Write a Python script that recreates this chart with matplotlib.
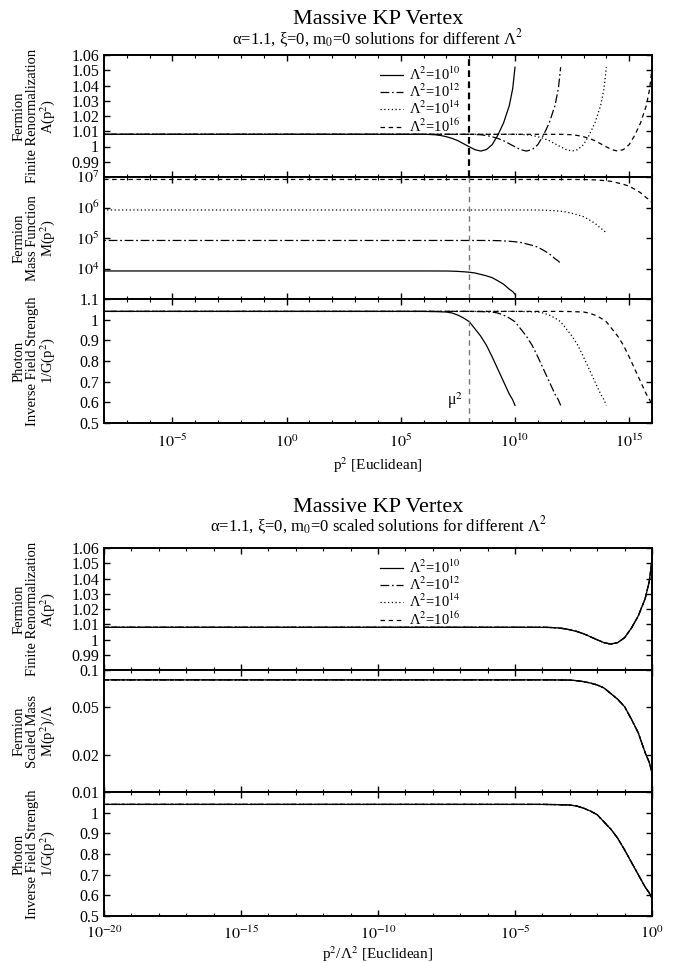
import numpy as np
import matplotlib.pyplot as plt
from matplotlib.ticker import FixedLocator, FuncFormatter, NullFormatter, NullLocator, LogLocator

plt.rcParams['font.family'] = ['Liberation Serif', 'DejaVu Serif']
plt.rcParams['mathtext.fontset'] = 'stix'

# universal (scaled) solutions: log10(p^2/Lambda^2)
log_s = [-24.0, -4.0, -3.75, -3.5, -3.25, -3.0, -2.75, -2.5, -2.25, -2.0, -1.75,
         -1.5, -1.25, -1.0, -0.75, -0.5, -0.25, -0.1, 0.0]
a_vals = [1.0080, 1.0080, 1.0079, 1.0077, 1.0072, 1.0064, 1.0053, 1.0038, 1.0018,
          0.9998, 0.9979, 0.9970, 0.9980, 1.0012, 1.0075, 1.0155, 1.0268, 1.0380, 1.0520]
m_scaled = [0.0830, 0.0830, 0.0830, 0.0829, 0.0828, 0.0827, 0.0818, 0.0803, 0.0782,
            0.0754, 0.0712, 0.0640, 0.0575, 0.0500, 0.0395, 0.0305, 0.0210, 0.0175, 0.0143]
g_inv = [1.040, 1.040, 1.0395, 1.039, 1.038, 1.037, 1.032, 1.022, 1.008,
         0.990, 0.955, 0.920, 0.876, 0.820, 0.760, 0.700, 0.640, 0.612, 0.585]

lambda_exp = [10, 12, 14, 16]          # Lambda^2 = 10^exp
mu_sq = 1e8

styles = ['-', (0, (7, 2.2, 1.4, 2.2)), (0, (1, 2)), (0, (3.6, 2.9))]
labels = ['Λ$^2$=10$^{%d}$' % e for e in lambda_exp]

W, H = 684, 963
fig = plt.figure(figsize=(W / 100, H / 100), dpi=100)
left, right = 104 / W, 652 / W


def make_axes(top_px, bot_px):
    ax = fig.add_axes([left, 1 - bot_px / H, right - left, (bot_px - top_px) / H])
    for sp in ax.spines.values():
        sp.set_linewidth(1.4)
    ax.tick_params(which='both', direction='in', top=True, right=True, labelsize=11.5)
    ax.tick_params(which='major', length=4, width=1)
    ax.tick_params(which='minor', length=2, width=0.8)
    return ax


def ylab(ax, text):
    ax.text(-0.126, 0.5, text, transform=ax.transAxes, rotation=90, ha='center',
            va='center', fontsize=10.5, linespacing=0.95)


def lin_ticks(ax, ticks, hide=()):
    ax.yaxis.set_major_locator(FixedLocator(ticks))
    ax.yaxis.set_major_formatter(FuncFormatter(
        lambda v, p: '' if any(abs(v - h) < 1e-9 for h in hide) else '%g' % round(v, 3)))
    ax.yaxis.set_minor_locator(NullLocator())


def log_x(ax, lo, hi, show_labels):
    ax.set_xscale('log')
    ax.set_xlim(10.0 ** lo, 10.0 ** hi)
    majors = [10.0 ** k for k in range(lo, hi + 1) if k % 5 == 0]
    minors = [10.0 ** k for k in range(lo, hi + 1) if k % 5 != 0]
    ax.xaxis.set_major_locator(FixedLocator(majors))
    ax.xaxis.set_minor_locator(FixedLocator(minors))
    ax.xaxis.set_minor_formatter(NullFormatter())
    if show_labels:
        ax.xaxis.set_major_formatter(FuncFormatter(lambda v, p: r'$10^{%d}$' % round(np.log10(v))))
    else:
        ax.xaxis.set_major_formatter(NullFormatter())


def legend(ax):
    ax.legend(loc='upper left', bbox_to_anchor=(0.49, 0.975), frameon=False, fontsize=10.5,
              handlelength=1.6, handletextpad=0.4, labelspacing=0.0, borderpad=0)


s = 10.0 ** np.array(log_s)

# ---------------- upper chart: unscaled ----------------
fig.text((left + right) / 2, 1 - 20 / H, 'Massive KP Vertex', ha='center', va='center', fontsize=16)
fig.text((left + right) / 2, 1 - 39 / H, 'α=1.1, ξ=0, m$_0$=0 solutions for different Λ$^2$',
         ha='center', va='center', fontsize=12)

ax1 = make_axes(55, 177)
ax2 = make_axes(177, 299)
ax3 = make_axes(299, 423)
for e, ls, lab in zip(lambda_exp, styles, labels):
    x = s * 10.0 ** e
    ax1.plot(x, a_vals, color='black', lw=0.9, ls=ls, label=lab)
    ax2.plot(x, np.array(m_scaled) * 10.0 ** (e / 2), color='black', lw=0.9, ls=ls)
    ax3.plot(x, g_inv, color='black', lw=0.9, ls=ls)

ax1.axvline(mu_sq, color='black', lw=1.6, ls=(0, (3, 2)))
ax2.axvline(mu_sq, color='#777777', lw=1.0, ls=(0, (4, 3)))
ax3.plot([mu_sq, mu_sq], [0.5, 1.02], color='#777777', lw=1.0, ls=(0, (4, 3)))
ax3.text(10 ** 7.75, 0.56, 'μ$^2$', ha='right', va='bottom', fontsize=11.5)

ax1.set_ylim(0.98, 1.06)
lin_ticks(ax1, np.arange(0.98, 1.0601, 0.01), hide=(0.98,))
ax2.set_yscale('log')
ax2.set_ylim(1e3, 1e7)
ax2.yaxis.set_major_locator(FixedLocator([1e3, 1e4, 1e5, 1e6, 1e7]))
ax2.yaxis.set_major_formatter(FuncFormatter(
    lambda v, p: '' if v < 2e3 else r'$10^{%d}$' % round(np.log10(v))))
ax2.yaxis.set_minor_locator(LogLocator(base=10, subs=np.arange(2, 10)))
ax2.yaxis.set_minor_formatter(NullFormatter())
ax3.set_ylim(0.5, 1.1)
lin_ticks(ax3, np.arange(0.5, 1.1001, 0.1))
for ax, show in ((ax1, False), (ax2, False), (ax3, True)):
    log_x(ax, -8, 16, show)
ax3.tick_params(axis='x', which='major', pad=8)
ax3.set_xlabel('p$^2$ [Euclidean]', fontsize=11)
ax3.xaxis.set_label_coords(0.5, -32 / 124)
legend(ax1)
ylab(ax1, 'Fermion\nFinite Renormalization\nA(p$^2$)')
ylab(ax2, 'Fermion\nMass Function\nM(p$^2$)')
ylab(ax3, 'Photon\nInverse Field Strength\n1/G(p$^2$)')

# ---------------- lower chart: scaled ----------------
fig.text((left + right) / 2, 1 - 507 / H, 'Massive KP Vertex', ha='center', va='center', fontsize=16)
fig.text((left + right) / 2, 1 - 526 / H,
         'α=1.1, ξ=0, m$_0$=0 scaled solutions for different Λ$^2$',
         ha='center', va='center', fontsize=12)

bx1 = make_axes(548, 670)
bx2 = make_axes(670, 792)
bx3 = make_axes(792, 916)
for e, ls, lab in zip(lambda_exp, styles, labels):
    bx1.plot(s, a_vals, color='black', lw=0.9, ls=ls, label=lab)
    bx2.plot(s, m_scaled, color='black', lw=0.9, ls=ls)
    bx3.plot(s, g_inv, color='black', lw=0.9, ls=ls)

bx1.set_ylim(0.98, 1.06)
lin_ticks(bx1, np.arange(0.98, 1.0601, 0.01), hide=(0.98,))
bx2.set_yscale('log')
bx2.set_ylim(0.01, 0.1)
bx2.yaxis.set_major_locator(FixedLocator([0.01, 0.02, 0.05, 0.1]))
bx2.yaxis.set_major_formatter(FuncFormatter(lambda v, p: '%g' % v))
bx2.yaxis.set_minor_locator(NullLocator())
bx3.set_ylim(0.5, 1.1)
lin_ticks(bx3, np.arange(0.5, 1.1001, 0.1), hide=(1.1,))
for ax, show in ((bx1, False), (bx2, False), (bx3, True)):
    log_x(ax, -20, 0, show)
bx3.tick_params(axis='x', which='major', pad=7)
bx3.set_xlabel('p$^2$/Λ$^2$ [Euclidean]', fontsize=11)
bx3.xaxis.set_label_coords(0.5, -28 / 124)
legend(bx1)
ylab(bx1, 'Fermion\nFinite Renormalization\nA(p$^2$)')
ylab(bx2, 'Fermion\nScaled Mass\nM(p$^2$)/Λ')
ylab(bx3, 'Photon\nInverse Field Strength\n1/G(p$^2$)')

fig.savefig('out.png', dpi=100)
